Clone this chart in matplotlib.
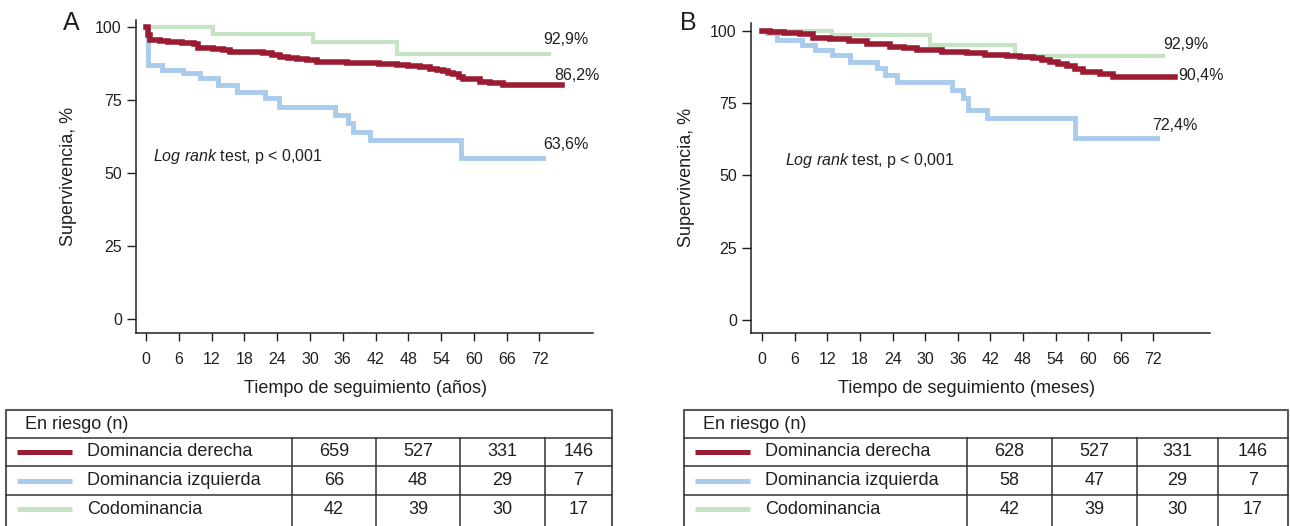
import matplotlib.pyplot as plt

plt.rcParams['font.family'] = ['Liberation Sans', 'DejaVu Sans']
plt.rcParams['mathtext.fontset'] = 'custom'
plt.rcParams['mathtext.rm'] = 'Liberation Sans'
plt.rcParams['mathtext.it'] = 'Liberation Sans:italic'

RED = '#9b1c32'
BLUE = '#a9cbec'
GREEN = '#c6e4c4'
INK = '#231f20'

x_ticks = [0, 6, 12, 18, 24, 30, 36, 42, 48, 54, 60, 66, 72]
y_ticks = [0, 25, 50, 75, 100]

# Panel A curves (time, survival %)
a_red_t = [0, 0.3, 0.7, 2.5, 4, 6.5, 8.7, 9.6, 12.3, 14, 15.4, 18.5, 21.4, 23, 24.5, 26,
           27.6, 29.5, 31.2, 34, 36.7, 42.7, 44.5, 45.9, 48, 50.2, 52.0, 53.2, 54.3, 55.3,
           56.2, 57.2, 58.0, 61.1, 63.0, 65.4, 76.1]
a_red_s = [100, 97, 95.5, 95.2, 94.8, 94.4, 94.0, 92.6, 92.3, 91.9, 91.5, 91.2, 90.9, 90.3,
           89.7, 89.4, 89.0, 88.5, 88.0, 87.8, 87.6, 87.4, 87.1, 86.9, 86.6, 86.3, 85.5,
           85.2, 84.9, 84.3, 83.7, 82.8, 82.0, 81.2, 80.7, 80.1, 80.1]
a_blue_t = [0, 0.4, 2.9, 6.8, 9.9, 13.2, 16.6, 21.8, 24.4, 34.6, 37.0, 37.9, 41.0, 57.7, 72.7]
a_blue_s = [100, 87.0, 85.2, 84.1, 82.4, 80.1, 77.8, 75.5, 72.7, 69.8, 67.0, 64.1, 61.3, 55.0, 55.0]
a_green_t = [0, 12.2, 30.5, 46.0, 73.7]
a_green_s = [100, 97.5, 94.7, 90.7, 90.7]

# Panel B curves
b_red_t = [0, 1.4, 4, 6.9, 9.4, 12.5, 16, 19.2, 23.5, 26, 28.4, 33, 37.6, 41, 45.0, 47.5,
           49.9, 51.5, 53.0, 54.5, 56.1, 57.6, 59.1, 62.2, 64.6, 76.0]
b_red_s = [100, 99.7, 99.3, 98.8, 97.6, 97.1, 96.4, 95.6, 94.5, 93.9, 93.3, 92.8, 92.2,
           91.8, 91.4, 91.0, 90.5, 89.9, 89.3, 88.6, 87.9, 86.8, 85.6, 84.9, 83.9, 83.9]
b_blue_t = [0, 0.8, 2.7, 7.3, 9.7, 12.8, 16.2, 21.1, 22.6, 24.8, 34.9, 37.0, 37.9, 41.3,
            57.6, 72.6]
b_blue_s = [100, 99.1, 96.8, 95.1, 93.3, 91.6, 89.3, 87.0, 84.7, 82.4, 79.5, 76.6, 72.6,
            69.7, 62.8, 62.8]
b_green_t = [0, 12.8, 30.9, 46.5, 73.8]
b_green_s = [100, 98.5, 95.1, 91.4, 91.4]

end_labels_a = ['92,9%', '86,2%', '63,6%']
end_labels_b = ['92,9%', '90,4%', '72,4%']

groups = ['Dominancia derecha', 'Dominancia izquierda', 'Codominancia']
risk_a = [[659, 527, 331, 146], [66, 48, 29, 7], [42, 39, 30, 17]]
risk_b = [[628, 527, 331, 146], [58, 47, 29, 7], [42, 39, 30, 17]]

fig = plt.figure(figsize=(12.9, 5.26), dpi=100)


def style_axes(ax, xlim, ylim):
    ax.set_xlim(*xlim)
    ax.set_ylim(*ylim)
    for s in ['top', 'right']:
        ax.spines[s].set_visible(False)
    for s in ['left', 'bottom']:
        ax.spines[s].set_color(INK)
        ax.spines[s].set_linewidth(1.1)
    ax.set_xticks(x_ticks)
    ax.set_yticks(y_ticks)
    ax.tick_params(axis='x', length=6, width=1, color=INK, labelcolor=INK,
                   labelsize=11.5, pad=8)
    ax.tick_params(axis='y', length=6.5, width=1, color=INK, labelcolor=INK,
                   labelsize=11.5, pad=3.5)


def draw_curves(ax, curves, labels, label_xy, logrank_xy):
    for (t, s, c, lw) in curves:
        ax.step(t, s, where='post', color=c, lw=lw, solid_joinstyle='miter')
    for lab, (lx, ly) in zip(labels, label_xy):
        ax.text(lx, ly, lab, ha='center', va='center', fontsize=11.5, color=INK)
    ax.text(logrank_xy[0], logrank_xy[1], '$\\mathit{Log\\ rank}$ test, p < 0,001',
            ha='left', va='center', fontsize=11.5, color=INK)


# Panel A
ax1 = fig.add_axes([0.1052, 0.3675, 0.3545, 0.5945])
style_axes(ax1, (-1.89, 81.8), (-4.55, 102.3))
draw_curves(ax1,
            [(a_blue_t, a_blue_s, BLUE, 3.5), (a_green_t, a_green_s, GREEN, 3),
             (a_red_t, a_red_s, RED, 4)],
            end_labels_a, [(76.8, 95.8), (78.8, 83.2), (76.8, 59.9)], (1.3, 55.6))
ax1.set_ylabel('Supervivencia, %', fontsize=13, color=INK, va='center')
ax1.yaxis.set_label_coords(-0.147, 0.5)
ax1.set_xlabel('Tiempo de seguimiento (años)', fontsize=13, color=INK, va='center')
ax1.xaxis.set_label_coords(0.5014, -0.177)

# Panel B
ax2 = fig.add_axes([0.5819, 0.3675, 0.3560, 0.5888])
style_axes(ax2, (-2.14, 82.4), (-4.4, 102.7))
draw_curves(ax2,
            [(b_blue_t, b_blue_s, BLUE, 3.5), (b_green_t, b_green_s, GREEN, 3),
             (b_red_t, b_red_s, RED, 4)],
            end_labels_b, [(77.9, 95.4), (80.8, 84.4), (76.0, 67.4)], (4.2, 55.3))
ax2.set_ylabel('Supervivencia, %', fontsize=13, color=INK, va='center')
ax2.yaxis.set_label_coords(-0.139, 0.5)
ax2.set_xlabel('Tiempo de seguimiento (meses)', fontsize=13, color=INK, va='center')
ax2.xaxis.set_label_coords(0.470, -0.1786)

fig.text(71 / 1290, 1 - 22.5 / 526, 'A', fontsize=18, color=INK, ha='center', va='center')
fig.text(688 / 1290, 1 - 22.5 / 526, 'B', fontsize=18, color=INK, ha='center', va='center')

# risk tables, drawn in pixel space
tab = fig.add_axes([0, 0, 1, 1], zorder=-1)
tab.set_xlim(0, 1290)
tab.set_ylim(526, 0)
tab.axis('off')

BORDER = '#5a5a5a'
row_lines = [410, 438, 466, 495]
row_mid = [452, 480.5, 509]
colors = [RED, BLUE, GREEN]


def draw_table(left, right, cols, risk):
    tab.plot([left, left, right, right], [526, 410, 410, 526], color=BORDER, lw=1.5)
    for y in row_lines[1:]:
        tab.plot([left, right], [y, y], color='#333333', lw=1.1)
    for x in cols:
        tab.plot([x, x], [438, 526], color='#333333', lw=1.1)
    tab.text(left + 19, 424.5, 'En riesgo (n)', fontsize=13, color=INK, ha='left', va='center')
    edges = cols + [right]
    for i, g in enumerate(groups):
        y = row_mid[i]
        tab.plot([left + 11, left + 66], [y, y], color=colors[i], lw=3.6,
                 solid_capstyle='butt')
        tab.text(left + 81, y, g, fontsize=13, color=INK, ha='left', va='center')
        for j, v in enumerate(risk[i]):
            xc = (edges[j] + edges[j + 1]) / 2
            tab.text(xc, y, str(v), fontsize=13, color=INK, ha='center', va='center')


draw_table(6, 612, [292, 376, 460, 545], risk_a)
draw_table(684, 1288, [967, 1052, 1137, 1218], risk_b)

plt.savefig('out.png', dpi=100)
